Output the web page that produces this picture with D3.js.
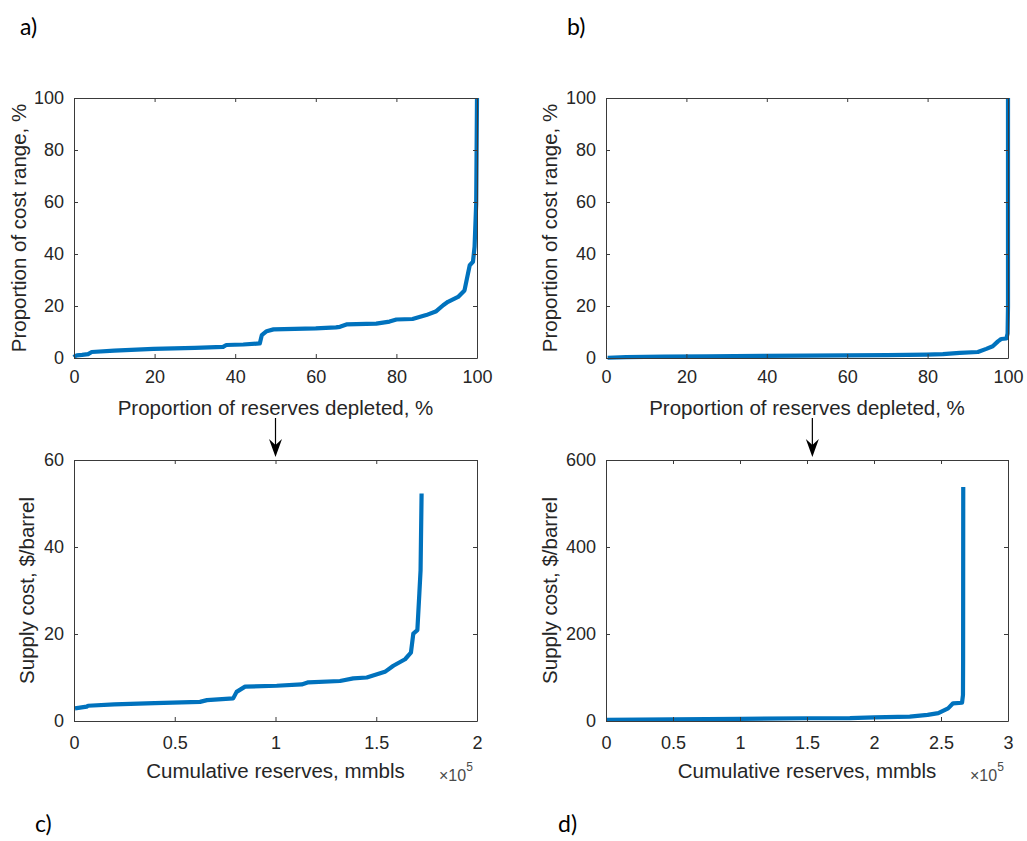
<!DOCTYPE html>
<html>
<head>
<meta charset="utf-8">
<script src="https://cdn.jsdelivr.net/npm/d3@7"></script>
<style>
  html, body { margin: 0; padding: 0; background: #fff; }
  svg { display: block; }
  .axlabel { font-family: "Liberation Sans", Arial, sans-serif; font-size: 20.5px; fill: #262626; }
  .panel-id { font-family: Lato, "Open Sans", sans-serif; font-size: 23px; fill: #000; }
</style>
</head>
<body>
<svg id="fig" width="1027" height="841"></svg>
<script>
// (a) normalised supply curve, field set 1: % reserves depleted vs % of cost range
const depletedA = [0, 0.3, 0.7, 2.0, 3.5, 4.4, 10, 19.7, 30, 37, 37.8, 42, 46.1, 46.6, 47.8, 49.5, 60, 65, 66, 67.6, 75, 78.3, 80, 84, 87.4, 89.9, 91.6, 92.8, 95.3, 96.9, 98.2, 99.0, 99.4, 99.8, 100];
const costShareA = [0.3, 0.8, 1.0, 1.2, 1.5, 2.3, 2.8, 3.5, 3.9, 4.3, 5.0, 5.2, 5.6, 8.8, 10.3, 11.0, 11.4, 11.8, 12.0, 12.9, 13.2, 14.0, 14.8, 15.0, 16.5, 18.0, 20.3, 21.6, 23.5, 26.0, 35.7, 37.0, 42.8, 59.5, 100];

// (b) normalised supply curve, field set 2
const depletedB = [0.4, 5, 14.3, 25, 39, 50, 59.9, 70, 79.7, 83.8, 88, 92.5, 94.6, 96.2, 97.5, 98.3, 99.6, 99.9, 100, 100];
const costShareB = [0.1, 0.3, 0.5, 0.6, 0.8, 0.9, 1.0, 1.1, 1.3, 1.5, 2.0, 2.3, 3.5, 4.5, 6.4, 7.3, 7.5, 9.4, 19.7, 100];

// (c) supply cost curve, field set 1 (cumulative reserves in mmbls)
const reservesC = [500, 6300, 7000, 20000, 40000, 62500, 66000, 79000, 80700, 84900, 100600, 113000, 116300, 132000, 138600, 145300, 154300, 158500, 164300, 167200, 168400, 170400, 171400, 172000, 172500];
const supplyCostC = [2.9, 3.3, 3.5, 3.8, 4.1, 4.4, 4.8, 5.2, 6.7, 7.9, 8.1, 8.4, 8.9, 9.2, 9.8, 10.0, 11.3, 12.7, 14.2, 15.7, 20.1, 20.9, 29.4, 34.7, 52.3];

// (d) supply cost curve, field set 2
const reservesD = [500, 50000, 100000, 150000, 182000, 200000, 226700, 240000, 248000, 255300, 259000, 265700, 266400, 266500, 266600];
const supplyCostD = [2.5, 4, 5, 6.3, 6.8, 8.5, 10, 14, 18, 29, 40.7, 42, 60, 140, 538];

// Tick values and their labels
const pctTicks = [0, 20, 40, 60, 80, 100];
const pctTickLabels = ["0", "20", "40", "60", "80", "100"];
const resTicksC = [0, 50000, 100000, 150000, 200000];
const resTickLabelsC = ["0", "0.5", "1", "1.5", "2"];
const costTicksC = [0, 20, 40, 60];
const costTickLabelsC = ["0", "20", "40", "60"];
const resTicksD = [0, 50000, 100000, 150000, 200000, 250000, 300000];
const resTickLabelsD = ["0", "0.5", "1", "1.5", "2", "2.5", "3"];
const costTicksD = [0, 200, 400, 600];
const costTickLabelsD = ["0", "200", "400", "600"];

const svg = d3.select("#fig");
const LINE = "#0072BD";
const AXIS = "#3a3a3a";

function panel(o) {
  const x = d3.scaleLinear().domain(o.xDomain).range([o.left, o.right]);
  const y = d3.scaleLinear().domain(o.yDomain).range([o.bottom, o.top]);
  const g = svg.append("g");

  // curve
  g.append("path")
    .datum(o.xs.map((v, i) => [v, o.ys[i]]))
    .attr("fill", "none")
    .attr("stroke", LINE)
    .attr("stroke-width", 4.2)
    .attr("stroke-linejoin", "round")
    .attr("stroke-linecap", "butt")
    .attr("d", d3.line().x(d => x(d[0])).y(d => y(d[1])));

  const fmtX = v => o.xLabels[o.xTicks.indexOf(v)];
  const fmtY = v => o.yLabels[o.yTicks.indexOf(v)];

  const style = sel => {
    sel.attr("font-family", "Liberation Sans, Arial, sans-serif").attr("font-size", 18);
    sel.select(".domain").attr("stroke", AXIS).attr("stroke-width", 1);
    sel.selectAll(".tick line").attr("stroke", AXIS).attr("stroke-width", 1);
    sel.selectAll(".tick text").attr("fill", "#262626");
  };

  g.append("g").attr("transform", `translate(0,${o.bottom})`)
    .call(d3.axisBottom(x).tickValues(o.xTicks).tickFormat(fmtX).tickSize(-4).tickSizeOuter(0).tickPadding(o.xPad))
    .call(style);
  g.append("g").attr("transform", `translate(0,${o.top})`)
    .call(d3.axisTop(x).tickValues(o.xTicks).tickFormat("").tickSize(-4).tickSizeOuter(0))
    .call(style);
  g.append("g").attr("transform", `translate(${o.left},0)`)
    .call(d3.axisLeft(y).tickValues(o.yTicks).tickFormat(fmtY).tickSize(-4).tickSizeOuter(0).tickPadding(10))
    .call(style);
  g.append("g").attr("transform", `translate(${o.right},0)`)
    .call(d3.axisRight(y).tickValues(o.yTicks).tickFormat("").tickSize(-4).tickSizeOuter(0))
    .call(style);

  // axis titles
  g.append("text").attr("class", "axlabel")
    .attr("x", (o.left + o.right) / 2).attr("y", o.xTitleY)
    .attr("text-anchor", "middle").text(o.xTitle);
  g.append("text").attr("class", "axlabel")
    .attr("transform", `translate(${o.yTitleX},${(o.top + o.bottom) / 2}) rotate(-90)`)
    .attr("text-anchor", "middle").text(o.yTitle);

  if (o.exponent) {
    const e = g.append("text").attr("class", "axlabel")
      .attr("x", o.right - 38).attr("y", o.bottom + 60)
      .style("font-size", "16px").style("fill", "#4a4a4a");
    e.append("tspan").text("×10");
    e.append("tspan").attr("dy", -10).style("font-size", "12px").text(o.exponent);
  }
  return { x, y };
}

const L1 = 74, R1 = 477, L2 = 606, R2 = 1008;
const T1 = 98, B1 = 358, T2 = 460, B2 = 721;

panel({ left: L1, right: R1, top: T1, bottom: B1, xDomain: [0, 100], yDomain: [0, 100],
  xs: depletedA, ys: costShareA, xTicks: pctTicks, xLabels: pctTickLabels, yTicks: pctTicks, yLabels: pctTickLabels,
  xPad: 12, xTitle: "Proportion of reserves depleted, %", xTitleY: 415,
  yTitle: "Proportion of cost range, %", yTitleX: 26 });

panel({ left: L2, right: R2, top: T1, bottom: B1, xDomain: [0, 100], yDomain: [0, 100],
  xs: depletedB, ys: costShareB, xTicks: pctTicks, xLabels: pctTickLabels, yTicks: pctTicks, yLabels: pctTickLabels,
  xPad: 12, xTitle: "Proportion of reserves depleted, %", xTitleY: 415,
  yTitle: "Proportion of cost range, %", yTitleX: 557 });

const pc = panel({ left: L1, right: R1, top: T2, bottom: B2, xDomain: [0, 200000], yDomain: [0, 60],
  xs: reservesC, ys: supplyCostC, xTicks: resTicksC, xLabels: resTickLabelsC, yTicks: costTicksC, yLabels: costTickLabelsC,
  xPad: 15, xTitle: "Cumulative reserves, mmbls", xTitleY: 778,
  yTitle: "Supply cost, $/barrel", yTitleX: 34, exponent: "5" });

const pd = panel({ left: L2, right: R2, top: T2, bottom: B2, xDomain: [0, 300000], yDomain: [0, 600],
  xs: reservesD, ys: supplyCostD, xTicks: resTicksD, xLabels: resTickLabelsD, yTicks: costTicksD, yLabels: costTickLabelsD,
  xPad: 15, xTitle: "Cumulative reserves, mmbls", xTitleY: 778,
  yTitle: "Supply cost, $/barrel", yTitleX: 557, exponent: "5" });

// arrows linking each normalised curve to its supply cost curve
function arrow(xPos) {
  const tip = T2 - 3;
  svg.append("line").attr("x1", xPos).attr("x2", xPos).attr("y1", 418).attr("y2", tip - 8)
    .attr("stroke", "#000").attr("stroke-width", 1.2);
  svg.append("path")
    .attr("d", `M${xPos},${tip} L${xPos - 6.5},${tip - 18} L${xPos},${tip - 12} L${xPos + 6.5},${tip - 18} Z`)
    .attr("fill", "#000");
}
arrow(pc.x(100000));
arrow(pd.x(154000));

// panel identifiers
const ids = [["a)", 20, 35], ["b)", 567, 35], ["c)", 35, 832], ["d)", 558, 832]];
svg.selectAll(".panel-id").data(ids).join("text")
  .attr("class", "panel-id")
  .attr("x", d => d[1]).attr("y", d => d[2])
  .text(d => d[0]);
</script>
</body>
</html>
